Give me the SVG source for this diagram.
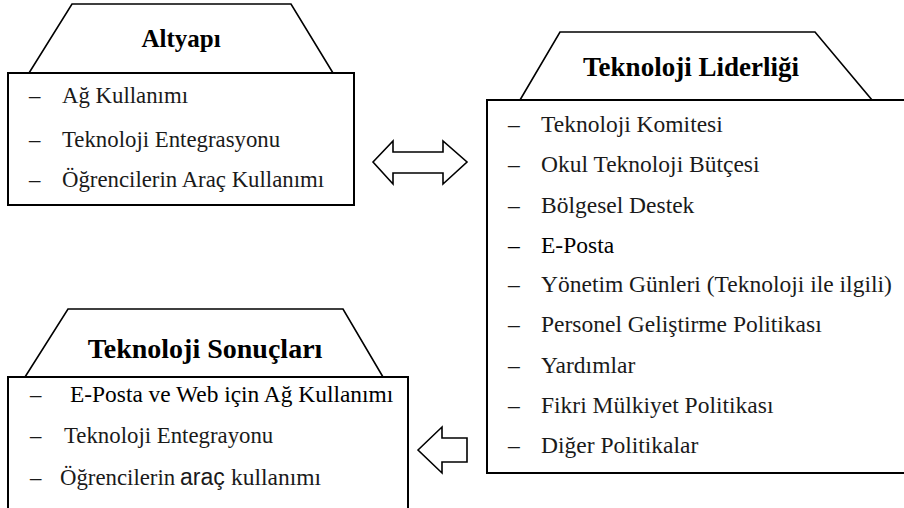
<svg xmlns="http://www.w3.org/2000/svg" width="904" height="508" viewBox="0 0 904 508">
<style>
.trap{fill:#fff;stroke:#000;stroke-width:1.6}
.box{fill:#fff;stroke:#000;stroke-width:2}
.arrow{fill:#fff;stroke:#000;stroke-width:1.6;stroke-linejoin:miter}
.title{font-weight:bold;fill:#000;text-anchor:middle}
.item{fill:#1a1a1a}
</style>
<rect width="904" height="508" fill="#fff"/>
<g font-family="Liberation Serif, Times New Roman, serif">
<g id="altyapi">
<polygon class="trap" points="72,4 291,4 333,73 29,73"/>
<rect class="box" x="8" y="73" width="346" height="132"/>
<text class="title" x="181" y="47" font-size="25">Altyapı</text>
<g class="item" font-size="22.8">
<text x="29" y="103">–</text><text x="62" y="103">Ağ Kullanımı</text>
<text x="29" y="147">–</text><text x="62" y="147">Teknoloji Entegrasyonu</text>
<text x="29" y="187">–</text><text x="62" y="187">Öğrencilerin Araç Kullanımı</text>
</g>
</g>
<g id="liderlik">
<polygon class="trap" points="560,32 815,32 872,100 520,100"/>
<rect class="box" x="487" y="100" width="430" height="373"/>
<text class="title" x="691" y="76" font-size="27">Teknoloji Liderliği</text>
<g class="item" font-size="23.5">
<text x="508" y="132">–</text><text x="541" y="132">Teknoloji Komitesi</text>
<text x="508" y="172">–</text><text x="541" y="172">Okul Teknoloji Bütçesi</text>
<text x="508" y="213">–</text><text x="541" y="213">Bölgesel Destek</text>
<text x="508" y="253" fill="#000">–</text><text x="541" y="253" fill="#000">E-Posta</text>
<text x="508" y="292">–</text><text x="541" y="292">Yönetim Günleri (Teknoloji ile ilgili)</text>
<text x="508" y="332">–</text><text x="541" y="332">Personel Geliştirme Politikası</text>
<text x="508" y="373">–</text><text x="541" y="373">Yardımlar</text>
<text x="508" y="413">–</text><text x="541" y="413">Fikri Mülkiyet Politikası</text>
<text x="508" y="453">–</text><text x="541" y="453">Diğer Politikalar</text>
</g>
</g>
<g id="sonuclar">
<polygon class="trap" points="68,309 343,309 383,377 25,377"/>
<rect class="box" x="8" y="377" width="400" height="150"/>
<text class="title" x="205" y="358" font-size="28">Teknoloji Sonuçları</text>
<g class="item" font-size="22.8">
<text x="30" y="402">–</text><text x="70" y="402" fill="#000" font-size="23.4">E-Posta ve Web için Ağ Kullanımı</text>
<text x="30" y="443">–</text><text x="64" y="443">Teknoloji Entegrayonu</text>
<text x="30" y="485">–</text><text x="60" y="485">Öğrencilerin <tspan x="180" font-family="Liberation Sans, Arial, sans-serif" font-size="23">araç</tspan> <tspan x="231" font-size="23.5">kullanımı</tspan></text>
</g>
</g>
</g>
<g id="connectors">
<polygon class="arrow" points="373,162 393,141 393,152 443,152 443,141 467,162 443,184 443,173 393,173 393,184"/>
<polygon class="arrow" points="418,450 442,427 442,438 467,438 467,462 442,462 442,473"/>
</g>
</svg>
